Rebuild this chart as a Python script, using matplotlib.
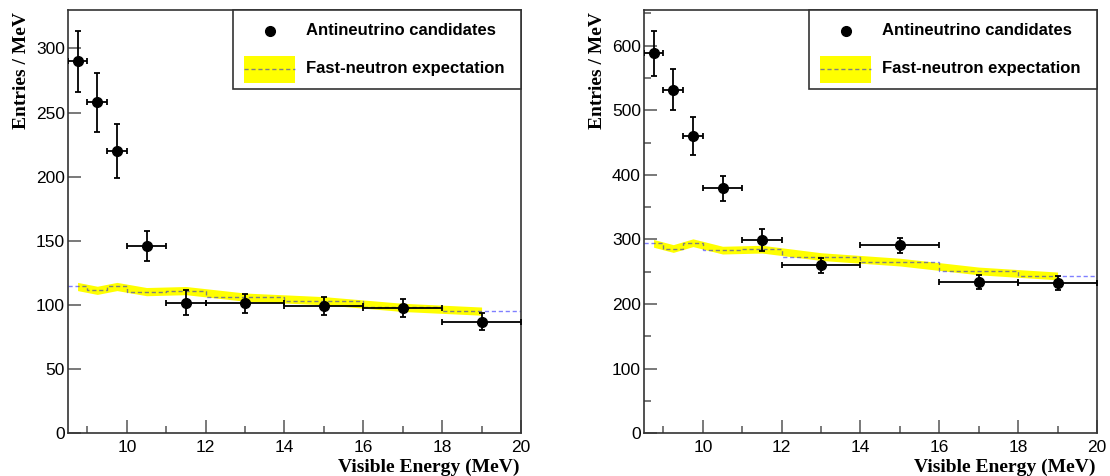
import matplotlib

matplotlib.use("Agg")
import matplotlib.pyplot as plt
from matplotlib.patches import Rectangle
from matplotlib.lines import Line2D
from matplotlib.ticker import MultipleLocator, NullLocator

W, H = 1110, 476
SANS = "Liberation Sans"
SERIF = "Liberation Serif"
FRAME = "#333333"
TICK = "#555555"
BAND = "#ffff00"
STEP = (0.0, 0.0, 1.0, 0.5)

# energy bins (MeV)
bin_lo = [8.5, 9.0, 9.5, 10.0, 11.0, 12.0, 14.0, 16.0, 18.0]
bin_hi = [9.0, 9.5, 10.0, 11.0, 12.0, 14.0, 16.0, 18.0, 20.0]

# left panel
left_counts = [290, 258, 220, 146, 102, 101.5, 99.5, 97.5, 87]
left_err = [24, 23, 21, 12, 10, 7.5, 7, 7, 6.5]
left_fastn = [114.5, 111.5, 114.5, 110.5, 111.3, 106.2, 103.4, 98.2, 95.3]
left_band = 3.2
left_ymax = 330
left_yticks = [0, 50, 100, 150, 200, 250, 300]

# right panel
right_counts = [588, 532, 460, 379, 299, 260, 291, 234, 233]
right_err = [35, 32, 30, 19, 17, 12, 12, 11, 11]
right_fastn = [294, 286, 295, 283.5, 285, 273.5, 265, 251.3, 243.6]
right_band = 6.0
right_ymax = 655
right_yticks = [0, 100, 200, 300, 400, 500, 600]

xticks = [10, 12, 14, 16, 18, 20]


def px_box(x0, y0, x1, y1):
    # pixel box (top-left origin) -> figure fraction rect
    return [x0 / W, 1 - y1 / H, (x1 - x0) / W, (y1 - y0) / H]


def draw_legend(fig, x0):
    tf = fig.transFigure
    y0, y1, x1 = 10, 88.5, x0 + 287.7
    fig.patches.append(Rectangle((x0 / W, 1 - y1 / H), (x1 - x0) / W, (y1 - y0) / H,
                                 transform=tf, facecolor="white", edgecolor=FRAME,
                                 linewidth=1.2, zorder=5))
    fig.lines.append(Line2D([(x0 + 37) / W], [1 - 30.7 / H], transform=tf, marker="o",
                            markersize=7, color="black", zorder=6))
    fig.text((x0 + 73) / W, 1 - 30.7 / H, "Antineutrino candidates", fontsize=12,
             fontweight="bold", family=SANS, va="center", ha="left", zorder=6)
    fig.patches.append(Rectangle(((x0 + 11) / W, 1 - 83.3 / H), 51 / W, 27.3 / H,
                                 transform=tf, facecolor=BAND, edgecolor="none", zorder=6))
    fig.lines.append(Line2D([(x0 + 11) / W, (x0 + 62) / W], [1 - 69.3 / H] * 2, transform=tf,
                            color=STEP, linewidth=1, linestyle=(0, (3, 2)), zorder=7))
    fig.text((x0 + 73) / W, 1 - 68.3 / H, "Fast-neutron expectation", fontsize=12,
             fontweight="bold", family=SANS, va="center", ha="left", zorder=6)


def draw_panel(fig, left_px, counts, err, fastn, band, ymax, yticks, yminor):
    right_px = left_px + 453.3
    ax = fig.add_axes(px_box(left_px, 10, right_px, 433.4))
    centers = [(a + b) / 2 for a, b in zip(bin_lo, bin_hi)]
    halfw = [(b - a) / 2 for a, b in zip(bin_lo, bin_hi)]

    ax.fill_between(centers, [v - band for v in fastn], [v + band for v in fastn],
                    color=BAND, linewidth=0, zorder=1)
    ax.stairs(fastn, bin_lo + [bin_hi[-1]], baseline=None, color=STEP, linewidth=1,
              linestyle=(0, (3, 2)), zorder=2)
    ax.errorbar(centers, counts, yerr=err, xerr=halfw, fmt="o", color="black",
                markersize=7, elinewidth=1.3, capsize=2, capthick=1.3, zorder=3)

    ax.set_xlim(8.5, 20)
    ax.set_ylim(0, ymax)
    ax.set_xticks(xticks)
    ax.xaxis.set_minor_locator(MultipleLocator(1))
    ax.set_yticks(yticks)
    if yminor:
        ax.yaxis.set_minor_locator(MultipleLocator(yminor))
    else:
        ax.yaxis.set_minor_locator(NullLocator())
    ax.tick_params(which="major", direction="in", length=9.5, width=1.1, color=TICK,
                   labelsize=12.5)
    ax.tick_params(which="minor", direction="in", length=5, width=1.1, color=TICK)
    ax.tick_params(axis="x", which="major", pad=4.5)
    ax.tick_params(axis="y", which="major", pad=2)
    for lab in ax.get_xticklabels() + ax.get_yticklabels():
        lab.set_family(SANS)
    for sp in ax.spines.values():
        sp.set_color(FRAME)
        sp.set_linewidth(1.2)

    fig.text((right_px - 2) / W, 1 - 471.5 / H, "Visible Energy (MeV)", fontsize=14,
             fontweight="bold", family=SERIF, ha="right", va="baseline")
    fig.text((left_px - 46) / W, 1 - 12 / H, "Entries / MeV", fontsize=14,
             fontweight="bold", family=SERIF, rotation=90, ha="center", va="top")
    draw_legend(fig, right_px - 287.7)
    return ax


fig = plt.figure(figsize=(W / 100, H / 100), dpi=100, facecolor="white")
draw_panel(fig, 67.7, left_counts, left_err, left_fastn, left_band, left_ymax,
           left_yticks, None)
draw_panel(fig, 643.7, right_counts, right_err, right_fastn, right_band, right_ymax,
           right_yticks, 50)
fig.savefig("out.png", dpi=100, facecolor="white")
